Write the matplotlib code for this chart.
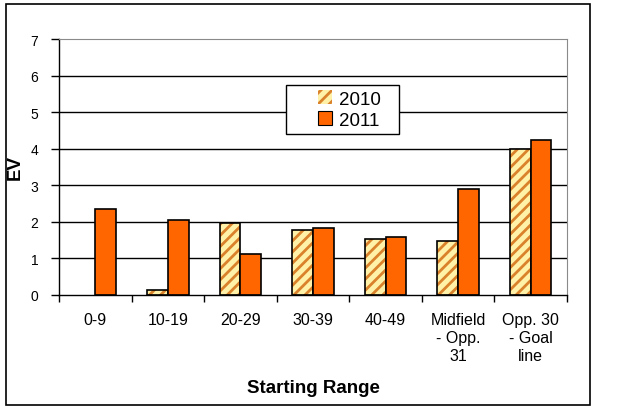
import matplotlib
matplotlib.use("Agg")
import matplotlib.pyplot as plt
import numpy as np
from matplotlib.patches import Rectangle, Patch

plt.rcParams["font.family"] = ["Liberation Sans", "DejaVu Sans"]
plt.rcParams["hatch.linewidth"] = 2.0

categories = ["0-9", "10-19", "20-29", "30-39", "40-49",
              "Midfield\n- Opp.\n31", "Opp. 30\n- Goal\nline"]
ev_2010 = [0.0, 0.13, 1.96, 1.77, 1.52, 1.49, 3.99]
ev_2011 = [2.34, 2.04, 1.11, 1.82, 1.58, 2.89, 4.25]

C2011 = "#FF6600"
C2010_BG = "#FFF2A8"
C2010_HATCH = "#D9822B"

fig = plt.figure(figsize=(6.4, 4.1), dpi=100)
fig.patch.set_facecolor("white")
ax = fig.add_axes([59 / 640, 1 - 296 / 410, 508 / 640, 256 / 410])

x = np.arange(len(categories))
w = 1 / 3.5

# 2010: hatched fill, then black outline on top (no outline for empty bars)
ax.bar(x - w / 2, ev_2010, w, color=C2010_BG, edgecolor=C2010_HATCH,
       hatch="///", linewidth=0, zorder=3)
outline = ax.bar(x - w / 2, ev_2010, w, facecolor="none", edgecolor="black",
                 linewidth=1.2, zorder=4)
for b, v in zip(outline, ev_2010):
    if v == 0:
        b.set_linewidth(0)
ax.bar(x + w / 2, ev_2011, w, color=C2011, edgecolor="black",
       linewidth=1.2, zorder=4)

ax.set_xlim(-0.5, len(categories) - 0.5)
ax.set_ylim(0, 7)
ax.set_yticks(range(8))
ax.tick_params(axis="y", direction="out", length=6, width=1, pad=9,
               labelsize=10, colors="black")
ax.set_xticks(x)
ax.set_xticklabels(categories, fontsize=11.5, linespacing=1.25)
ax.tick_params(axis="x", which="major", length=0, pad=12)
ax.set_xticks(np.arange(-0.5, len(categories)), minor=True)
ax.tick_params(axis="x", which="minor", direction="out", length=5, width=1)

for y in range(1, 7):
    ax.axhline(y, color="black", lw=1, zorder=1)

for s in ("top", "right"):
    ax.spines[s].set_color("#8a8a8a")
for s in ("left", "bottom"):
    ax.spines[s].set_color("black")
    ax.spines[s].set_linewidth(1)
ax.spines["bottom"].set_zorder(5)

ax.set_ylabel("EV", fontsize=13.5, fontweight="bold", labelpad=5)
ax.set_xlabel("Starting Range", fontsize=13.5, fontweight="bold", labelpad=12)

# legend box drawn by hand (Excel-style wide padding)
ax.add_patch(Rectangle((0.447, 0.629), 0.222, 0.191, transform=ax.transAxes,
                       facecolor="white", edgecolor="black", lw=1, zorder=6))
handles = [Patch(facecolor=C2010_BG, edgecolor=C2010_HATCH, hatch="///", linewidth=0),
           Patch(facecolor=C2011, edgecolor="black", linewidth=0.8)]
leg = ax.legend(handles, ["2010", "2011"], loc="center",
                bbox_to_anchor=(0.572, 0.7246), fontsize=13.5, frameon=False,
                handlelength=0.75, handleheight=0.75, handletextpad=0.4,
                borderpad=0.2, labelspacing=0.2)
leg.set_zorder(7)

fig.add_artist(Rectangle((6 / 640, 4 / 410), 584 / 640, 401 / 410,
                         transform=fig.transFigure, fill=False,
                         edgecolor="black", lw=1.2))

fig.savefig("out.png", dpi=100, facecolor="white")
